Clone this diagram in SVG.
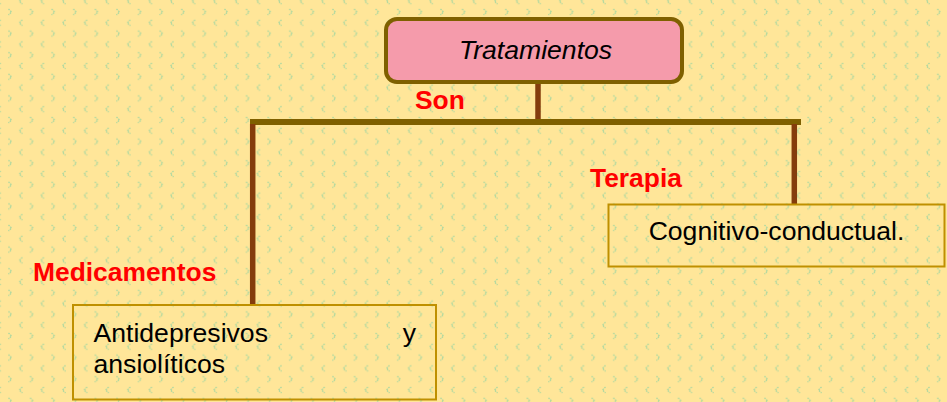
<svg xmlns="http://www.w3.org/2000/svg" width="947" height="402" viewBox="0 0 947 402">
  <defs>
    <pattern id="bg" x="-0.8" y="1.2" width="21.6" height="21.6" patternUnits="userSpaceOnUse">
      <rect width="21.6" height="21.6" fill="#FFE699"/>
      <g fill="none" stroke="#ADD8A0" stroke-width="1.4" stroke-dasharray="1.6 0.9">
        <polyline points="9.3,7.8 12.3,10.8 9.3,13.8"/>
        <polyline points="1.5,-3 -1.5,0 1.5,3"/>
        <polyline points="23.1,-3 20.1,0 23.1,3"/>
        <polyline points="1.5,18.6 -1.5,21.6 1.5,24.6"/>
        <polyline points="23.1,18.6 20.1,21.6 23.1,24.6"/>
      </g>
    </pattern>
    <style>
      .t { font-family: "Liberation Sans", Arial, sans-serif; font-size: 26.6px; fill: #000; }
      .lbl { font-family: "Liberation Sans", Arial, sans-serif; font-size: 26.4px; font-weight: bold; fill: #FF0000; }
      .box { fill: none; stroke: #BF9000; stroke-width: 2; }
      .brown { stroke: #843C0C; stroke-width: 5.5; fill: none; }
      .olive { stroke: #7F6000; stroke-width: 6; fill: none; }
    </style>
  </defs>
  <rect x="0" y="0" width="947" height="402" fill="url(#bg)"/>

  <g id="connectors">
    <line class="brown" x1="538" y1="84" x2="538" y2="120"/>
    <line class="olive" x1="250" y1="122" x2="801" y2="122"/>
    <line class="brown" x1="252.7" y1="124" x2="252.7" y2="304"/>
    <line class="brown" x1="794.3" y1="124" x2="794.3" y2="204"/>
  </g>

  <g id="label-son"><text class="lbl" x="415" y="108.5">Son</text></g>
  <g id="label-terapia"><text class="lbl" x="590" y="186.5">Terapia</text></g>
  <g id="label-medicamentos"><text class="lbl" x="33" y="281">Medicamentos</text></g>

  <g id="node-tratamientos">
    <rect x="386" y="19" width="296" height="63" rx="11" ry="11" fill="#F59BAB" stroke="#7F6000" stroke-width="4"/>
    <text class="t" x="535.5" y="58.5" text-anchor="middle" font-style="italic">Tratamientos</text>
  </g>

  <g id="node-cognitivo">
    <rect class="box" x="608.5" y="204.5" width="336" height="62"/>
    <text class="t" x="776.5" y="239.5" text-anchor="middle">Cognitivo-conductual.</text>
  </g>

  <g id="node-antidepresivos">
    <rect class="box" x="73" y="305" width="363" height="94.5"/>
    <text class="t" x="93.5" y="342">Antidepresivos</text>
    <text class="t" x="416" y="342" text-anchor="end">y</text>
    <text class="t" x="93.5" y="373">ansiolíticos</text>
  </g>
</svg>
